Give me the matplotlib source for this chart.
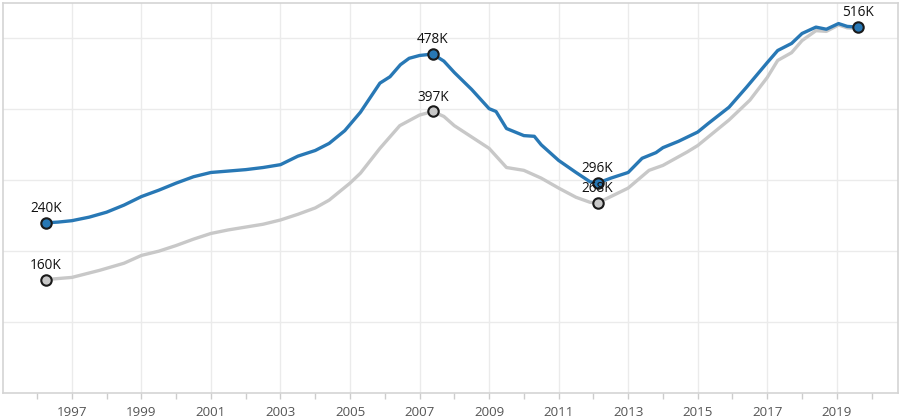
import matplotlib
matplotlib.use("Agg")
import matplotlib.pyplot as plt
from matplotlib.ticker import FixedLocator, NullFormatter

plt.rcParams['font.family'] = ['Open Sans', 'DejaVu Sans']

blue_t = [1996.25, 1996.6, 1997.0, 1997.5, 1998.0, 1998.5, 1999.0, 1999.5, 2000.0, 2000.5,
          2001.0, 2001.5, 2002.0, 2002.5, 2003.0, 2003.5, 2004.0, 2004.4, 2004.85, 2005.3,
          2005.86, 2006.15, 2006.45, 2006.7, 2007.0, 2007.38, 2007.7, 2008.0, 2008.5, 2009.0, 2009.2,
          2009.5, 2010.0, 2010.3, 2010.5, 2011.0, 2011.5, 2011.9, 2012.12, 2012.5, 2013.0,
          2013.4, 2013.8, 2014.0, 2014.45, 2015.0, 2015.3, 2015.9, 2016.4, 2017.0, 2017.3,
          2017.7, 2018.0, 2018.4, 2018.7, 2019.05, 2019.3, 2019.6]
blue_v = [240, 241, 243, 248, 255, 265, 277, 286, 296, 305,
          311, 313, 315, 318, 322, 334, 342, 352, 370, 396,
          437, 446, 463, 472, 476, 478, 468, 452, 428, 401, 397,
          373, 363, 362, 350, 328, 311, 298, 296, 303, 311,
          331, 339, 346, 355, 368, 380, 403, 431, 466, 483,
          493, 507, 516, 513, 521, 517, 516]

gray_t = [1996.25, 1997.0, 1997.8, 1998.5, 1999.0, 1999.5, 2000.0, 2000.5, 2001.0, 2001.5,
          2002.0, 2002.5, 2003.0, 2003.5, 2004.0, 2004.4, 2005.0, 2005.3, 2005.86, 2006.43,
          2007.0, 2007.38, 2007.7, 2008.0, 2008.5, 2009.0, 2009.5, 2010.0, 2010.5, 2011.0,
          2011.5, 2011.9, 2012.12, 2012.5, 2013.0, 2013.6, 2014.0, 2014.7, 2015.0, 2015.9,
          2016.5, 2017.0, 2017.3, 2017.7, 2018.0, 2018.4, 2018.7, 2019.05, 2019.3, 2019.6]
gray_v = [160, 163, 173, 183, 194, 200, 208, 217, 225, 230,
          234, 238, 244, 252, 261, 272, 296, 310, 345, 377,
          392, 397, 390, 377, 361, 345, 318, 314, 303, 289,
          276, 269, 268, 277, 289, 314, 321, 340, 349, 385,
          413, 445, 469, 480, 497, 511, 510, 519, 515, 514]

gray_marks = [(1996.25, 160, "160K"), (2007.38, 397, "397K"), (2012.12, 268, "268K")]
blue_marks = [(1996.25, 240, "240K"), (2007.38, 478, "478K"), (2012.12, 296, "296K"),
              (2019.6, 516, "516K")]

major_years = list(range(1997, 2020, 2))
minor_years = list(range(1996, 2021, 2))

BLUE = "#2878b5"
GRAY = "#c8c8c8"

fig = plt.figure(figsize=(9.02, 4.2), dpi=100)
ax = fig.add_axes([3/902, 27/420, 895/902, 390/420])

ax.plot(gray_t, gray_v, color=GRAY, lw=2.4, solid_capstyle='round',
        solid_joinstyle='round', zorder=2)
ax.plot(blue_t, blue_v, color=BLUE, lw=2.4, solid_capstyle='round',
        solid_joinstyle='round', zorder=3)

for t, v, s in gray_marks:
    ax.plot([t], [v], 'o', ms=7.5, mfc=GRAY, mec='#1a1a1a', mew=1.5, zorder=4)
    ax.annotate(s, (t, v), xytext=(0, 5), textcoords='offset points',
                ha='center', va='bottom', fontsize=9.8, color='#111111', zorder=6)
for t, v, s in blue_marks:
    ax.plot([t], [v], 'o', ms=7.5, mfc=BLUE, mec='#1a1a1a', mew=1.5, zorder=5)
    ax.annotate(s, (t, v), xytext=(0, 5), textcoords='offset points',
                ha='center', va='bottom', fontsize=9.8, color='#111111', zorder=6)

ax.set_xlim(1995.02, 2020.76)
ax.set_ylim(0, 550)

ax.xaxis.set_major_locator(FixedLocator(major_years))
ax.set_xticklabels([str(y) for y in major_years])
ax.xaxis.set_minor_locator(FixedLocator(minor_years))
ax.xaxis.set_minor_formatter(NullFormatter())
ax.yaxis.set_major_locator(FixedLocator([100, 200, 300, 400, 500]))
ax.set_yticklabels([])
ax.tick_params(axis='y', length=0)
ax.tick_params(axis='x', which='both', length=4, color='#cccccc', width=1,
               labelsize=9.6, labelcolor='#555555', pad=5)

ax.grid(True, which='major', color='#ebebeb', lw=1)
ax.set_axisbelow(True)
for sp in ax.spines.values():
    sp.set_color('#d4d4d4')
    sp.set_linewidth(1.2)

fig.savefig("out.png", dpi=100)
